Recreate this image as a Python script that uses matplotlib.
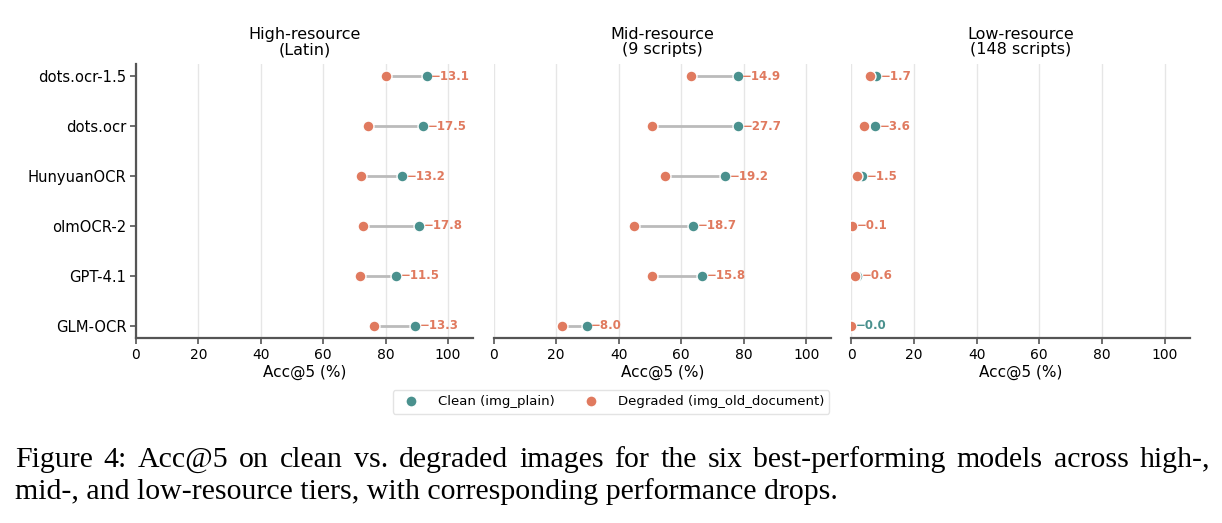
import matplotlib
matplotlib.use("Agg")
import matplotlib.pyplot as plt
from matplotlib.lines import Line2D

plt.rcParams["font.family"] = ["DejaVu Sans"]

models = ["dots.ocr-1.5", "dots.ocr", "HunyuanOCR", "olmOCR-2", "GPT-4.1", "GLM-OCR"]
titles = ["High-resource\n(Latin)", "Mid-resource\n(9 scripts)", "Low-resource\n(148 scripts)"]

high_clean = [93.1, 91.9, 85.3, 90.7, 83.2, 89.5]
high_degr = [80.0, 74.4, 72.1, 72.9, 71.7, 76.2]
mid_clean = [78.0, 78.3, 73.9, 63.7, 66.6, 29.7]
mid_degr = [63.1, 50.6, 54.7, 45.0, 50.8, 21.7]
low_clean = [7.8, 7.7, 3.4, 0.3, 1.8, 0.0]
low_degr = [6.1, 4.1, 1.9, 0.2, 1.2, 0.0]

high_drop = [13.1, 17.5, 13.2, 17.8, 11.5, 13.3]
mid_drop = [14.9, 27.7, 19.2, 18.7, 15.8, 8.0]
low_drop = [1.7, 3.6, 1.5, 0.1, 0.6, 0.0]

xticks = [0, 20, 40, 60, 80, 100]

caption_line1 = "Figure 4: Acc@5 on clean vs. degraded images for the six best-performing models across high-,"
caption_line2 = "mid-, and low-resource tiers, with corresponding performance drops."

TEAL = "#4A918E"
ORANGE = "#E07A5F"
SPINE = "#555555"

W, H = 1222, 523
fig = plt.figure(figsize=(W / 100, H / 100), dpi=100)

lefts = [136 / W, 493.7 / W, 851.3 / W]
widths = [337 / W, 337.6 / W, 338.4 / W]
bottom = 1 - 338 / H
height = (338 - 64) / H

panels = [(high_clean, high_degr, high_drop),
          (mid_clean, mid_degr, mid_drop),
          (low_clean, low_degr, low_drop)]

ypos = list(range(len(models)))
for i, (clean, degr, drop) in enumerate(panels):
    ax = fig.add_axes([lefts[i], bottom, widths[i], height])
    for y, c, d in zip(ypos, clean, degr):
        ax.plot([d, c], [y, y], color="#BBBBBB", lw=2, zorder=2, solid_capstyle="butt")
    ax.scatter(clean, ypos, s=62, color=TEAL, edgecolor="white", linewidth=1, zorder=3)
    ax.scatter(degr, ypos, s=62, color=ORANGE, edgecolor="white", linewidth=1, zorder=4)
    for y, c, dr in zip(ypos, clean, drop):
        col = ORANGE if dr > 0 else TEAL
        ax.text(c + 1.5, y, f"\u2212{dr:.1f}", color=col, fontsize=8.5, fontweight="bold",
                ha="left", va="center", zorder=5)
    ax.set_xlim(0, 108)
    ax.set_ylim(5.25, -0.25)
    ax.set_xticks(xticks)
    ax.set_xticklabels([str(t) for t in xticks], fontsize=10)
    ax.grid(axis="x", color="#E6E6E6", lw=1, zorder=0)
    ax.set_axisbelow(True)
    for s in ["top", "right"]:
        ax.spines[s].set_visible(False)
    ax.spines["bottom"].set_color(SPINE)
    ax.spines["bottom"].set_linewidth(1.6)
    ax.tick_params(axis="x", colors=SPINE, labelcolor="black", length=4, width=1.2, pad=3)
    if i == 0:
        ax.spines["left"].set_color(SPINE)
        ax.spines["left"].set_linewidth(1.6)
        ax.set_yticks(ypos)
        ax.set_yticklabels(models, fontsize=10.6)
        ax.tick_params(axis="y", colors=SPINE, labelcolor="black", length=4, width=1.2, pad=3)
    else:
        ax.spines["left"].set_visible(False)
        ax.set_yticks([])
    ax.set_xlabel("Acc@5 (%)", fontsize=11, labelpad=2)
    ax.set_title(titles[i], fontsize=11.5, pad=7, linespacing=1.05)

handles = [Line2D([0], [0], marker="o", color="none", markerfacecolor=TEAL, markeredgecolor="white",
                  markersize=8, label="Clean (img_plain)"),
           Line2D([0], [0], marker="o", color="none", markerfacecolor=ORANGE, markeredgecolor="white",
                  markersize=8, label="Degraded (img_old_document)")]
fig.legend(handles=handles, loc="center", bbox_to_anchor=(0.5, 1 - 402 / H), ncol=2,
           fontsize=9.5, frameon=True, edgecolor="#DDDDDD", fancybox=True, columnspacing=1.8,
           handletextpad=1.0)

cap_font = ["Liberation Serif", "DejaVu Serif"]
cap_size = 21.5

# Line 1: justified between x=15 and x=1210 px
renderer = fig.canvas.get_renderer()
words = caption_line1.split(" ")
texts = [fig.text(0, 1 - 460 / H, w, family=cap_font, fontsize=cap_size, ha="left", va="center")
         for w in words]
wid = [t.get_window_extent(renderer).width for t in texts]
x_left, x_right = 15, 1210
gap = (x_right - x_left - sum(wid)) / (len(words) - 1)
x = x_left
for t, w in zip(texts, wid):
    t.set_x(x / W)
    x += w + gap

fig.text(15 / W, 1 - 492 / H, caption_line2, family=cap_font, fontsize=cap_size,
         ha="left", va="center")

fig.savefig("out.png", dpi=100)
